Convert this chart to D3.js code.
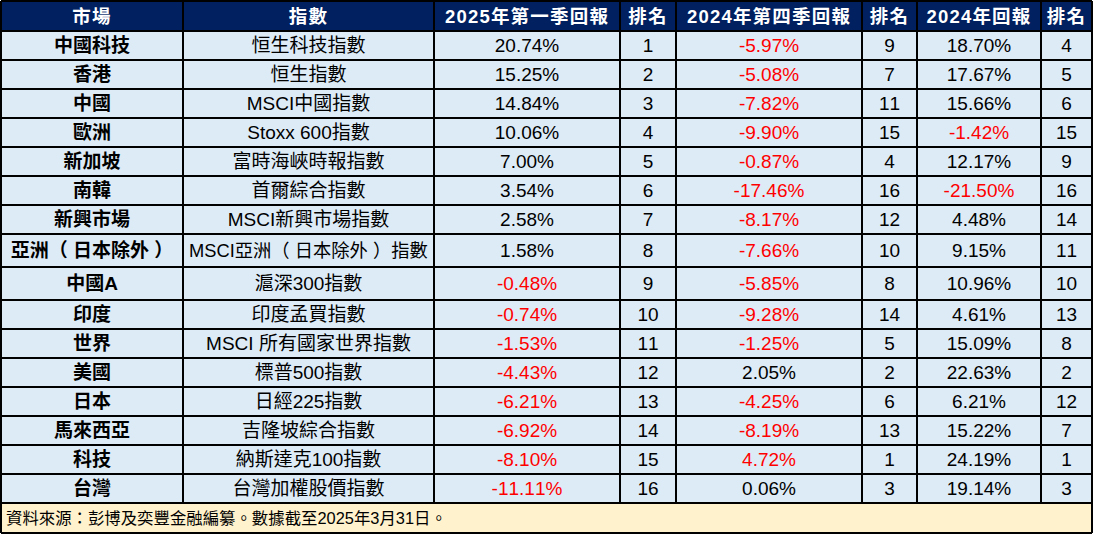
<!DOCTYPE html>
<html lang="zh-Hant">
<head>
<meta charset="utf-8">
<script src="https://cdn.jsdelivr.net/npm/d3@7"></script>
<style>
  html, body { margin: 0; padding: 0; background: #ffffff; }
  svg { display: block; }
  text { font-kerning: none; }
</style>
</head>
<body>
<svg id="chart" width="1094" height="534" lang="zh-Hant"></svg>
<script>
// ---------- data ----------
const headers = ["市場", "指數", "2025年第一季回報", "排名", "2024年第四季回報", "排名", "2024年回報", "排名"];
const markets = ["中國科技", "香港", "中國", "歐洲", "新加坡", "南韓", "新興市場", "亞洲（日本除外）", "中國A", "印度", "世界", "美國", "日本", "馬來西亞", "科技", "台灣"];
const indices = ["恒生科技指數", "恒生指數", "MSCI中國指數", "Stoxx 600指數", "富時海峽時報指數", "首爾綜合指數", "MSCI新興市場指數", "MSCI亞洲（日本除外）指數", "滬深300指數", "印度孟買指數", "MSCI 所有國家世界指數", "標普500指數", "日經225指數", "吉隆坡綜合指數", "納斯達克100指數", "台灣加權股價指數"];
const returnQ1_2025 = [20.74, 15.25, 14.84, 10.06, 7.00, 3.54, 2.58, 1.58, -0.48, -0.74, -1.53, -4.43, -6.21, -6.92, -8.10, -11.11];
const rankQ1_2025 = [1, 2, 3, 4, 5, 6, 7, 8, 9, 10, 11, 12, 13, 14, 15, 16];
const returnQ4_2024 = [-5.97, -5.08, -7.82, -9.90, -0.87, -17.46, -8.17, -7.66, -5.85, -9.28, -1.25, 2.05, -4.25, -8.19, 4.72, 0.06];
const rankQ4_2024 = [9, 7, 11, 15, 4, 16, 12, 10, 8, 14, 5, 2, 6, 13, 1, 3];
const return2024 = [18.70, 17.67, 15.66, -1.42, 12.17, -21.50, 4.48, 9.15, 10.96, 4.61, 15.09, 22.63, 6.21, 15.22, 24.19, 19.14];
const rank2024 = [4, 5, 6, 15, 9, 16, 14, 11, 10, 13, 8, 2, 12, 7, 1, 3];
// markets whose Q4 2024 value is shown in red in the source although it is positive
const extraRedQ4_2024 = ["科技"];
const footnote = "資料來源：彭博及奕豐金融編纂。數據截至2025年3月31日。";

// ---------- layout ----------
const colEdges = [1, 183, 434, 620, 676, 862, 917, 1041, 1092];
const headerH = 30, rowH = 29, tallRowH = 33, footerH = 30;
const tallRows = new Set([7, 8]);
const fontFam = "'Liberation Sans', Arial, 'Noto Sans CJK TC', sans-serif";
const colors = { header: "#002060", cell: "#DDEBF7", footer: "#FFF2CC", grid: "#000000", neg: "#FF0000", text: "#000000" };

const svg = d3.select("#chart");
const colKeys = d3.range(headers.length);
const xLeft = d3.scaleOrdinal().domain(colKeys).range(colEdges.slice(0, -1));
const xRight = d3.scaleOrdinal().domain(colKeys).range(colEdges.slice(1));

const rowKeys = d3.range(markets.length);
const heights = rowKeys.map(i => tallRows.has(i) ? tallRowH : rowH);
const tops = [];
{ let y = 1 + headerH; heights.forEach(h => { tops.push(y); y += h; }); }
const yTop = d3.scaleOrdinal().domain(rowKeys).range(tops);
const yH = d3.scaleOrdinal().domain(rowKeys).range(heights);
const bodyBottom = tops[tops.length - 1] + heights[heights.length - 1];

const fmt = d3.formatLocale({ decimal: ".", thousands: ",", grouping: [3], currency: ["", ""], minus: "-" }).format(".2f");
const pct = v => fmt(v) + "%";
const rows = rowKeys.map(i => [
  { t: markets[i], bold: true },
  { t: indices[i] },
  { t: pct(returnQ1_2025[i]), neg: returnQ1_2025[i] < 0 },
  { t: String(rankQ1_2025[i]) },
  { t: pct(returnQ4_2024[i]), neg: returnQ4_2024[i] < 0 || extraRedQ4_2024.includes(markets[i]) },
  { t: String(rankQ4_2024[i]) },
  { t: pct(return2024[i]), neg: return2024[i] < 0 },
  { t: String(rank2024[i]) }
]);

// backgrounds
svg.append("rect").attr("x", colEdges[0]).attr("y", 1).attr("width", colEdges[8] - colEdges[0]).attr("height", headerH).attr("fill", colors.header);
svg.append("rect").attr("x", colEdges[0]).attr("y", 1 + headerH).attr("width", colEdges[8] - colEdges[0]).attr("height", bodyBottom - 1 - headerH).attr("fill", colors.cell);
svg.append("rect").attr("x", colEdges[0]).attr("y", bodyBottom).attr("width", colEdges[8] - colEdges[0]).attr("height", footerH).attr("fill", colors.footer);

function fit(sel, maxW) {
  sel.each(function () {
    const w = this.getBBox().width;
    if (w > maxW) {
      const fs = parseFloat(d3.select(this).attr("font-size"));
      d3.select(this).attr("font-size", fs * maxW / w);
    }
  });
}

// write text; full-width brackets get a little breathing room on their inner side
function setText(sel) {
  sel.each(function (d) {
    const el = d3.select(this);
    el.text(null);
    const chars = Array.from(d.t);
    const pad = 0.28;
    let run = "", runDx = 0;
    const flush = () => { if (run) el.append("tspan").attr("dx", runDx ? runDx + "em" : null).text(run); run = ""; runDx = 0; };
    chars.forEach((ch, k) => {
      const afterOpen = k > 0 && chars[k - 1] === "（";
      const isClose = ch === "）";
      if (afterOpen || isClose) { flush(); runDx = pad; }
      run += ch;
    });
    flush();
  });
}

// header text
svg.append("g").selectAll("text").data(colKeys.map(c => ({ t: headers[c], c }))).join("text")
  .attr("x", d => (xLeft(d.c) + xRight(d.c)) / 2)
  .attr("y", 1 + headerH / 2)
  .attr("dy", "0.36em")
  .attr("text-anchor", "middle")
  .attr("font-family", fontFam)
  .attr("font-size", 18.5)
  .attr("font-weight", "bold")
  .attr("letter-spacing", 1.2)
  .attr("fill", "#ffffff")
  .call(setText)
  .call(fit, 180);

// body text
const rowG = svg.append("g").selectAll("g").data(rowKeys).join("g")
  .attr("transform", i => `translate(0,${yTop(i) + yH(i) / 2})`);
rowG.selectAll("text").data(i => rows[i].map((d, c) => ({ ...d, c }))).join("text")
  .attr("x", d => (xLeft(d.c) + xRight(d.c)) / 2)
  .attr("dy", "0.36em")
  .attr("text-anchor", "middle")
  .attr("font-family", fontFam)
  .attr("font-size", 19)
  .attr("font-weight", d => d.bold ? "bold" : "normal")
  .attr("fill", d => d.neg ? colors.neg : colors.text)
  .call(setText)
  .each(function (d) {
    const maxW = xRight(d.c) - xLeft(d.c) - 12;
    d3.select(this).call(fit, maxW);
  });

// footnote
svg.append("text")
  .attr("x", 6)
  .attr("y", bodyBottom + footerH / 2)
  .attr("dy", "0.36em")
  .attr("font-family", fontFam)
  .attr("font-size", 16.4)
  .attr("fill", colors.text)
  .text(footnote);

// grid lines
const grid = svg.append("g").attr("stroke", colors.grid).attr("stroke-width", 1.3).attr("shape-rendering", "crispEdges");
const hLines = [1, 1 + headerH, ...tops.slice(1), bodyBottom, bodyBottom + footerH];
grid.selectAll("line.h").data(hLines).join("line").attr("class", "h")
  .attr("x1", colEdges[0]).attr("x2", colEdges[8]).attr("y1", d => d).attr("y2", d => d);
grid.selectAll("line.v").data(colEdges).join("line").attr("class", "v")
  .attr("x1", d => d).attr("x2", d => d)
  .attr("y1", 1)
  .attr("y2", (d, i) => (i === 0 || i === colEdges.length - 1) ? bodyBottom + footerH : bodyBottom);
</script>
</body>
</html>
